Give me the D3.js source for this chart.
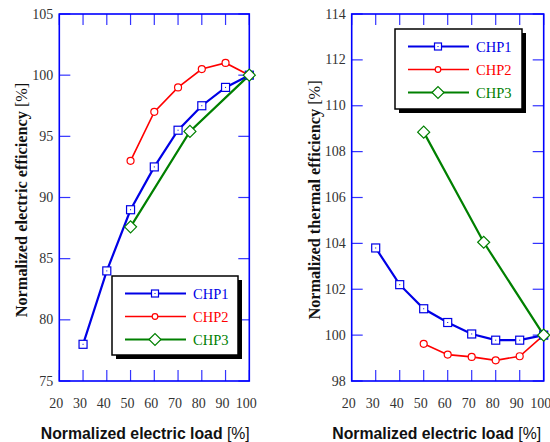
<!DOCTYPE html>
<html><head><meta charset="utf-8">
<script src="https://cdn.jsdelivr.net/npm/d3@7"></script>
<style>body{margin:0;background:#fff}svg{display:block}</style>
</head><body>
<script>
const loadTicks = [20,30,40,50,60,70,80,90,100];
const elecTicks = [75,80,85,90,95,100,105];
const thermTicks = [98,100,102,104,106,108,110,112,114];
const seriesNames = ["CHP1","CHP2","CHP3"];
const chp1Load = [30,40,50,60,70,80,90,100];
const chp2Load = [50,60,70,80,90,100];
const chp3Load = [50,75,100];
const chp1Elec = [78,84,89,92.5,95.5,97.5,99,100];
const chp2Elec = [93,97,99,100.5,101,100];
const chp3Elec = [87.6,95.4,100];
const chp1Therm = [103.8,102.2,101.15,100.55,100.05,99.78,99.78,100];
const chp2Therm = [99.62,99.15,99.05,98.9,99.08,100];
const chp3Therm = [108.85,104.05,100];

const colors = ["#0000e6","#ff0000","#008000"];
const shapes = ["square","circle","diamond"];
const SERIF = "Liberation Serif";
const SANS = "Liberation Sans";
const W = 550, H = 442;
const svg = d3.select("body").append("svg").attr("width",W).attr("height",H);

function marker(g, shape, color, x, y, legend){
  if(shape==="square"){
    const s = legend?3.5:4;
    g.append("rect").attr("x",x-s).attr("y",y-s).attr("width",2*s).attr("height",2*s)
      .attr("fill","#fff").attr("stroke",color).attr("stroke-width",1.2);
    g.append("rect").attr("x",x-0.5).attr("y",y-0.5).attr("width",1).attr("height",1).attr("fill",color);
  } else if(shape==="circle"){
    g.append("circle").attr("cx",x).attr("cy",y).attr("r",legend?2.8:3.5)
      .attr("fill","#fff").attr("stroke",color).attr("stroke-width",1.2);
  } else {
    const s = 6;
    g.append("path").attr("d",`M${x-s},${y}L${x},${y-s}L${x+s},${y}L${x},${y+s}Z`)
      .attr("fill","#fff").attr("stroke",color).attr("stroke-width",1.2);
  }
}

function panel(cfg){
  const x = d3.scaleLinear().domain([20,100]).range([cfg.left,cfg.right]);
  const y = d3.scaleLinear().domain(cfg.ydomain).range([cfg.bottom,cfg.top]);
  const g = svg.append("g");
  const tl = 11;
  const tg = g.append("g").attr("stroke","#3333ff").attr("stroke-width",1.2);
  loadTicks.forEach(t=>{
    tg.append("line").attr("x1",x(t)).attr("x2",x(t)).attr("y1",cfg.bottom).attr("y2",cfg.bottom-tl);
    tg.append("line").attr("x1",x(t)).attr("x2",x(t)).attr("y1",cfg.top).attr("y2",cfg.top+tl);
  });
  cfg.yticks.forEach(t=>{
    tg.append("line").attr("y1",y(t)).attr("y2",y(t)).attr("x1",cfg.left).attr("x2",cfg.left+tl);
    tg.append("line").attr("y1",y(t)).attr("y2",y(t)).attr("x1",cfg.right).attr("x2",cfg.right-tl);
  });
  g.append("rect").attr("x",cfg.left).attr("y",cfg.top).attr("width",cfg.right-cfg.left)
    .attr("height",cfg.bottom-cfg.top).attr("fill","none").attr("stroke","#0000ff").attr("stroke-width",1.6);
  loadTicks.forEach(t=>{
    g.append("text").style("font-family",SERIF).attr("x",x(t)-3).attr("y",cfg.bottom+27).attr("text-anchor","middle")
      .attr("font-size",14).attr("fill","#333").text(t);
  });
  cfg.yticks.forEach(t=>{
    g.append("text").style("font-family",SERIF).attr("x",cfg.left-6).attr("y",y(t)+4.5).attr("text-anchor","end")
      .attr("font-size",14).attr("fill","#333").text(t);
  });
  const xt = g.append("text").style("font-family",SANS).attr("x",(cfg.left+cfg.right)/2 + cfg.xtdx).attr("y",cfg.bottom+58)
    .attr("text-anchor","middle").attr("font-size",15.8).attr("fill","#111");
  xt.append("tspan").attr("font-weight","bold").text("Normalized electric load ");
  xt.append("tspan").text("[%]");
  const yt = g.append("text").style("font-family",SERIF).attr("transform",`translate(${cfg.ytx},200) rotate(-90)`)
    .attr("text-anchor","middle").attr("font-size",16.3).attr("fill","#111");
  yt.append("tspan").attr("font-weight","bold").text(cfg.ytitle+" ");
  yt.append("tspan").text("[%]");
  const line = d3.line().x(d=>x(d[0])).y(d=>y(d[1]));
  cfg.series.forEach((s,i)=>{
    const pts = s.load.map((l,j)=>[l,s.val[j]]);
    g.append("path").attr("d",line(pts)).attr("fill","none").attr("stroke",colors[i])
      .attr("stroke-width",i===1?1.6:2.2);
  });
  cfg.series.forEach((s,i)=>{
    s.load.forEach((l,j)=>marker(g,shapes[i],colors[i],x(l),y(s.val[j]),false));
  });
  const L = cfg.legend;
  const lg = g.append("g");
  lg.append("rect").attr("x",L.x+4).attr("y",L.y+4).attr("width",L.w).attr("height",L.h).attr("fill","#000");
  lg.append("rect").attr("x",L.x).attr("y",L.y).attr("width",L.w).attr("height",L.h)
    .attr("fill","#fff").attr("stroke","#000").attr("stroke-width",1.5);
  seriesNames.forEach((n,i)=>{
    const yy = L.y + 17.5 + i*23;
    lg.append("line").attr("x1",L.x+13).attr("x2",L.x+74).attr("y1",yy).attr("y2",yy)
      .attr("stroke",colors[i]).attr("stroke-width",i===1?1.6:2);
    marker(lg,shapes[i],colors[i],L.x+43,yy,true);
    lg.append("text").style("font-family",SERIF).attr("x",L.x+81).attr("y",yy+5)
      .attr("font-size",14.5).attr("fill",colors[i]).text(n);
  });
}

panel({left:59.3,right:249.3,top:14,bottom:381,ydomain:[75,105],yticks:elecTicks,
  ytx:27,xtdx:-9,ytitle:"Normalized electric efficiency",
  series:[{load:chp1Load,val:chp1Elec},{load:chp2Load,val:chp2Elec},{load:chp3Load,val:chp3Elec}],
  legend:{x:112,y:276,w:126,h:79}});
panel({left:351.7,right:543.7,top:14,bottom:381,ydomain:[98,114],yticks:thermTicks,
  ytx:320,xtdx:-11,ytitle:"Normalized thermal efficiency",
  series:[{load:chp1Load,val:chp1Therm},{load:chp2Load,val:chp2Therm},{load:chp3Load,val:chp3Therm}],
  legend:{x:395,y:29,w:127,h:80}});
</script>
</body></html>
